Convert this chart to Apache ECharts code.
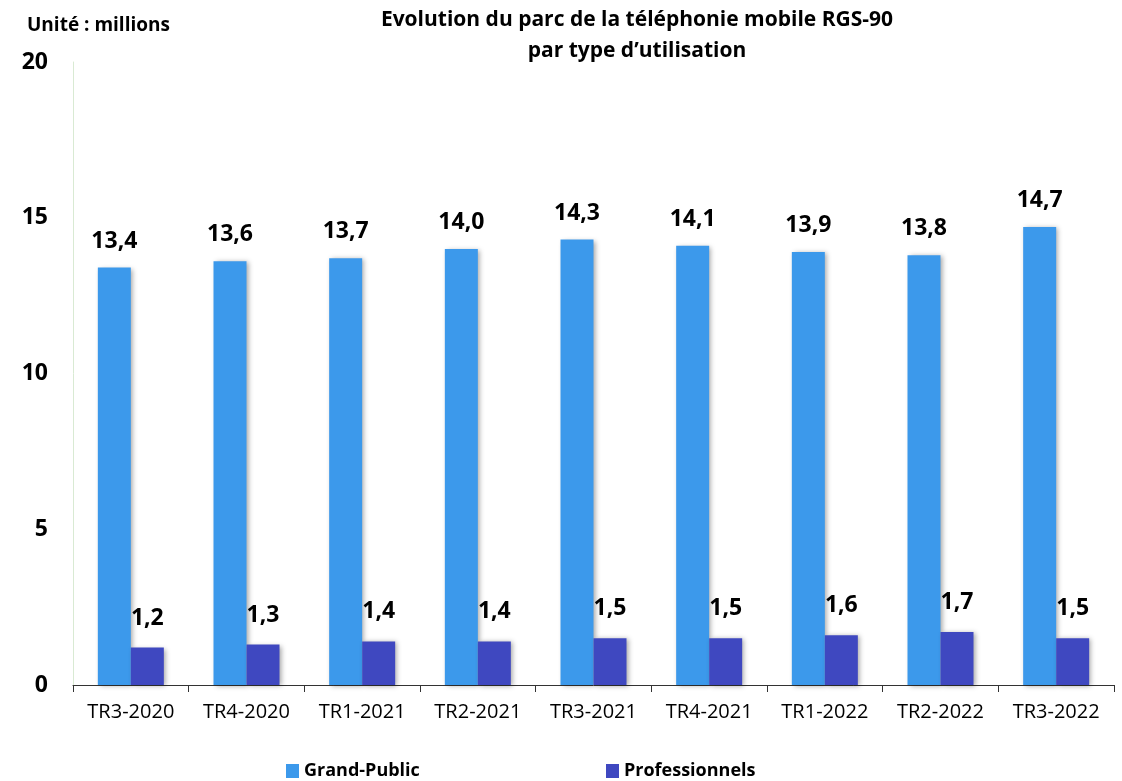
<!DOCTYPE html>
<html><head><meta charset="utf-8">
<script src="https://cdn.jsdelivr.net/npm/echarts@6/dist/echarts.min.js"></script>
<style>html,body{margin:0;padding:0;background:#fff}#c{width:1122px;height:781px}</style>
</head><body><div id="c"></div>
<script>
const categories = ['TR3-2020','TR4-2020','TR1-2021','TR2-2021','TR3-2021','TR4-2021','TR1-2022','TR2-2022','TR3-2022'];
const grandPublic = [13.4,13.6,13.7,14.0,14.3,14.1,13.9,13.8,14.7];
const professionnels = [1.2,1.3,1.4,1.4,1.5,1.5,1.6,1.7,1.5];
const yTicks = [0,5,10,15,20];
const FONT = 'Open Sans';
const fmt = v => v.toFixed(1).replace('.', ',');
const chart = echarts.init(document.getElementById('c'));
const shadow = {shadowBlur:5, shadowColor:'rgba(0,0,0,0.35)', shadowOffsetX:2, shadowOffsetY:1};
chart.setOption({
  animation:false,
  textStyle:{fontFamily:FONT},
  title:[
    {text:'Evolution du parc de la téléphonie mobile RGS-90\npar type d’utilisation', left:637, top:5, padding:0, textAlign:'center',
     textStyle:{fontFamily:FONT,fontWeight:'bold',fontSize:21,color:'#000',lineHeight:31}},
    {text:'Unité : millions', left:27, top:16, padding:0, textStyle:{fontFamily:FONT,fontWeight:'bold',fontSize:19,color:'#000'}}
  ],
  legend:[
    {data:['Grand-Public'], left:286, top:762, padding:0, icon:'rect', itemWidth:13, itemHeight:14, itemGap:4,
     textStyle:{fontFamily:FONT,fontWeight:'bold',fontSize:18,color:'#000'}},
    {data:['Professionnels'], left:606, top:762, padding:0, icon:'rect', itemWidth:13, itemHeight:14, itemGap:4,
     textStyle:{fontFamily:FONT,fontWeight:'bold',fontSize:18,color:'#000'}}
  ],
  grid:{left:73, right:8, top:62, bottom:96},
  xAxis:{type:'category', data:categories,
    axisLine:{lineStyle:{color:'#333',width:1}},
    axisTick:{show:true, length:7, lineStyle:{color:'#333'}},
    axisLabel:{fontFamily:FONT,fontSize:20,color:'#000',margin:17}},
  yAxis:{type:'value', min:yTicks[0], max:yTicks[yTicks.length-1], interval:5,
    splitLine:{show:false},
    axisLine:{show:true, lineStyle:{color:'#d9ead3'}},
    axisTick:{show:false},
    axisLabel:{fontFamily:FONT,fontWeight:'bold',fontSize:23,color:'#000',margin:25}},
  series:[
    {name:'Grand-Public', type:'bar', data:grandPublic, barWidth:33, barGap:'0%',
     itemStyle:Object.assign({color:'#3C99EB'}, shadow),
     label:{show:true, position:'top', distance:15, formatter:p=>fmt(p.value),
       fontFamily:FONT,fontWeight:'bold',fontSize:23,color:'#000'}},
    {name:'Professionnels', type:'bar', data:professionnels, barWidth:33,
     itemStyle:Object.assign({color:'#3F48C0'}, shadow),
     label:{show:true, position:'top', distance:18, formatter:p=>fmt(p.value),
       fontFamily:FONT,fontWeight:'bold',fontSize:23,color:'#000'}}
  ]
});
</script></body></html>
